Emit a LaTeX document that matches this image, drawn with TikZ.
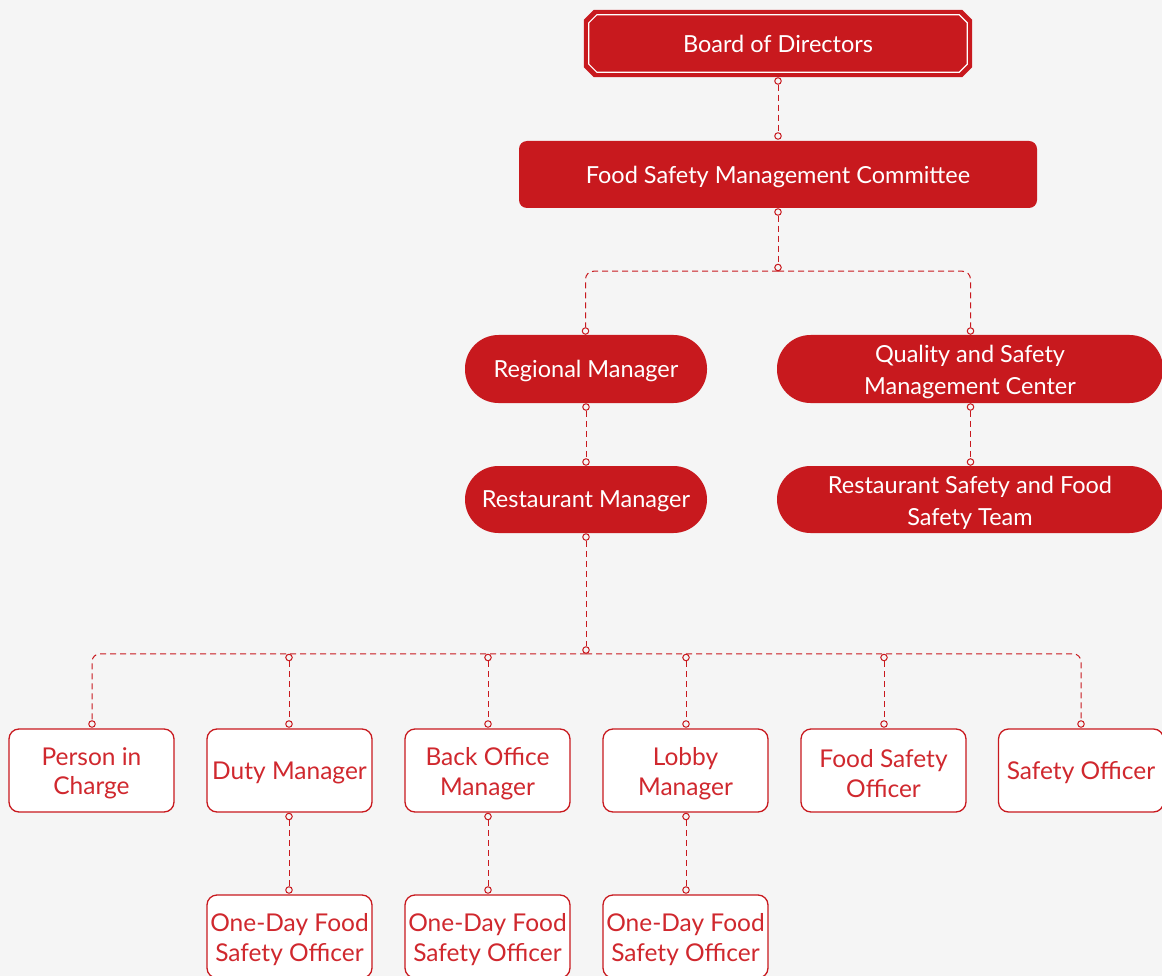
\documentclass[tikz,border=0pt]{standalone}
\usepackage{fontspec}
\setmainfont{Lato}
\definecolor{redc}{HTML}{C8191E}
\definecolor{txtred}{HTML}{D0282E}
\definecolor{bgc}{HTML}{F5F5F5}
\begin{document}
\begin{tikzpicture}[x=1pt,y=-1pt,
  redbox/.style={fill=redc, draw=none, inner sep=0pt},
  pill/.style={redbox, rounded corners=33.5pt},
  redtxt/.style={text=white, align=center, inner sep=0pt, font=\fontsize{23.5}{32}\selectfont},
  whitebox/.style={fill=white, draw=redc, line width=1.3pt, rounded corners=10pt,
     minimum width=165pt, minimum height=83pt, inner sep=0pt},
  whitetxt/.style={text=txtred, align=center, inner sep=0pt, font=\fontsize{24.5}{29.5}\selectfont},
  conn/.style={draw=redc, line width=1pt, dash pattern=on 6pt off 4pt},
  dot/.style={circle, draw=redc, fill=bgc, line width=1pt, inner sep=0pt, minimum size=6.5pt},
]
\useasboundingbox (0,0) rectangle (1162,976);
\fill[bgc] (0,0) rectangle (1162,976);
\clip (0,0) rectangle (1162,976);

% Board of Directors
\node[minimum width=388pt, minimum height=67pt, inner sep=0pt] (bod) at (778,43.5) {};
\fill[redc] ([xshift=10pt]bod.north west) -- ([xshift=-10pt]bod.north east) -- ([yshift=-10pt]bod.north east)
  -- ([yshift=10pt]bod.south east) -- ([xshift=-10pt]bod.south east) -- ([xshift=10pt]bod.south west)
  -- ([yshift=10pt]bod.south west) -- ([yshift=-10pt]bod.north west) -- cycle;
\node[minimum width=378pt, minimum height=57pt, inner sep=0pt] (bodin) at (bod.center) {};
\draw[white, line width=1.2pt] ([xshift=8pt]bodin.north west) -- ([xshift=-8pt]bodin.north east) -- ([yshift=-8pt]bodin.north east)
  -- ([yshift=8pt]bodin.south east) -- ([xshift=-8pt]bodin.south east) -- ([xshift=8pt]bodin.south west)
  -- ([yshift=8pt]bodin.south west) -- ([yshift=-8pt]bodin.north west) -- cycle;
\node[redtxt] (bodT) at ([yshift=-0.5pt]bod.center) {Board of Directors};

% Red boxes
\node[redbox, rounded corners=8pt, minimum width=518pt, minimum height=67pt] (fsmc) at (778,174.5) {};
\node[redtxt] (fsmcT) at ([yshift=-2pt]fsmc.center) {Food Safety Management Committee};
\node[pill, minimum width=242pt, minimum height=68pt] (rm) at (586,369) {};
\node[redtxt] (rmT) at ([yshift=-1.5pt]rm.center) {Regional Manager};
\node[pill, minimum width=386pt, minimum height=68pt] (qsmc) at (970,369) {};
\node[redtxt] (qsmcT) at ([yshift=-3pt]qsmc.center) {Quality and Safety\\Management Center};
\node[pill, minimum width=242pt, minimum height=67pt] (restm) at (586,499.5) {};
\node[redtxt] (restmT) at ([yshift=-1.5pt]restm.center) {Restaurant Manager};
\node[pill, minimum width=386pt, minimum height=67pt] (rsfst) at (970,499.5) {};
\node[redtxt] (rsfstT) at ([yshift=-3pt]rsfst.center) {Restaurant Safety and Food\\Safety Team};

% White boxes
\node[whitebox] (pic) at (91.5,770.5) {};
\node[whitetxt] (picT) at ([yshift=-3pt]pic.center) {Person in\\Charge};
\node[whitebox] (dm) at (289.5,770.5) {};
\node[whitetxt] (dmT) at ([yshift=-2pt]dm.center) {Duty Manager};
\node[whitebox] (bom) at (487.5,770.5) {};
\node[whitetxt] (bomT) at ([yshift=-3pt]bom.center) {Back Office\\Manager};
\node[whitebox] (lm) at (685.5,770.5) {};
\node[whitetxt] (lmT) at ([yshift=-3pt]lm.center) {Lobby\\Manager};
\node[whitebox] (fso) at (883.5,770.5) {};
\node[whitetxt] (fsoT) at ([yshift=-3pt]fso.center) {Food Safety\\Officer};
\node[whitebox] (so) at (1081,770.5) {};
\node[whitetxt] (soT) at ([yshift=-2pt]so.center) {Safety Officer};
\node[whitebox] (od1) at (289.5,936.5) {};
\node[whitetxt] (od1T) at ([yshift=-3pt]od1.center) {One-Day Food\\Safety Officer};
\node[whitebox] (od2) at (487.5,936.5) {};
\node[whitetxt] (od2T) at ([yshift=-3pt]od2.center) {One-Day Food\\Safety Officer};
\node[whitebox] (od3) at (685.5,936.5) {};
\node[whitetxt] (od3T) at ([yshift=-3pt]od3.center) {One-Day Food\\Safety Officer};

% Dots
\node[dot] (d1) at (778,81) {};
\node[dot] (d2) at (778,136) {};
\node[dot] (d3) at (778,212) {};
\node[dot] (j1) at (778,267.5) {};
\node[dot] (drm) at (585.5,331) {};
\node[dot] (dqs) at (970.5,331) {};
\node[dot] (drm2) at (586,407) {};
\node[dot] (drs) at (586,462) {};
\node[dot] (dqs2) at (970.5,407) {};
\node[dot] (drf) at (970.5,462) {};
\node[dot] (drs2) at (586,537) {};
\node[dot] (j2) at (586,650) {};
\node[dot] (bpic) at (92,724) {};
\node[dot] (tdm) at (289,657.5) {};
\node[dot] (bdm) at (289,724) {};
\node[dot] (tbom) at (488,657.5) {};
\node[dot] (bbom) at (488,724) {};
\node[dot] (tlm) at (686,657.5) {};
\node[dot] (blm) at (686,724) {};
\node[dot] (tfso) at (884,657.5) {};
\node[dot] (bfso) at (884,724) {};
\node[dot] (bso) at (1081,724) {};
\node[dot] (sdm) at (289,816.5) {};
\node[dot] (sod1) at (289,890) {};
\node[dot] (sbom) at (488,816.5) {};
\node[dot] (sod2) at (488,890) {};
\node[dot] (slm) at (686,816.5) {};
\node[dot] (sod3) at (686,890) {};

% Connectors
\draw[conn] (d1) -- (d2);
\draw[conn] (d3) -- (j1);
\draw[conn, rounded corners=8pt] (j1.south) -| (drm);
\draw[conn, rounded corners=8pt] (j1.south) -| (dqs);
\draw[conn] (drm2) -- (drs);
\draw[conn] (dqs2) -- (drf);
\draw[conn] (drs2) -- (j2);
\draw[conn, rounded corners=8pt] (j2.south) -| (bpic);
\draw[conn, rounded corners=8pt] (j2.south) -| (bso);
\draw[conn] (tdm) -- (bdm);
\draw[conn] (tbom) -- (bbom);
\draw[conn] (tlm) -- (blm);
\draw[conn] (tfso) -- (bfso);
\draw[conn] (sdm) -- (sod1);
\draw[conn] (sbom) -- (sod2);
\draw[conn] (slm) -- (sod3);
\end{tikzpicture}
\end{document}
